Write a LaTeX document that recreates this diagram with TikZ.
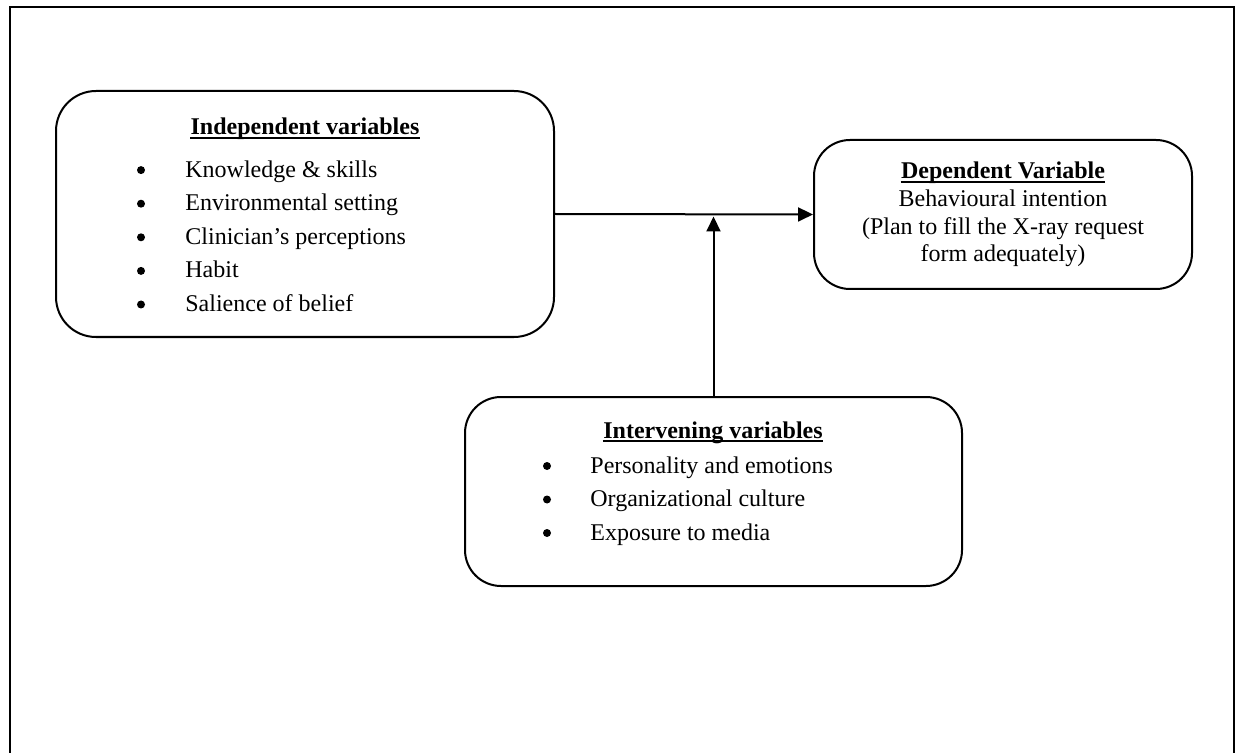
\documentclass[tikz,border=0pt]{standalone}
\usepackage{fontspec}
\setmainfont{Liberation Serif}
\usepackage{tikz}
\usetikzlibrary{arrows.meta}

\tikzset{
	varbox/.style={draw, line width=1pt, rounded corners=18pt, inner sep=0pt},
	txt/.style={anchor=base, inner sep=0pt, font=\fontsize{12}{14}\selectfont},
	title/.style={txt, font=\fontsize{12}{14}\selectfont\bfseries},
	dot/.style={circle, fill, inner sep=0pt, minimum size=4pt},
	arr/.style={line width=1pt, -{Triangle[length=7.5pt, width=7pt]}}
}

\begin{document}
\begin{tikzpicture}[x=0.5pt, y=-0.5pt]
			\useasboundingbox (0, 0) rectangle (1235, 753);
			\draw[line width=1pt] (9.5, 7.5) rectangle (1233.5, 800);
			% boxes
			\node[varbox, rounded corners=20pt, minimum width=249pt, minimum height=123pt] (indep) at (305, 214) {};
			\node[varbox, minimum width=189pt, minimum height=74.5pt] (dep) at (1003, 214.5) {};
			\node[varbox, minimum width=248.5pt, minimum height=94.5pt] (interv) at (713.5, 491.5) {};
			% titles, underlined
			\node[title] (indeptitle) at (305, 135) {Independent variables};
			\node[title] (deptitle) at (1003, 179) {Dependent Variable};
			\node[title] (intervtitle) at (713, 438) {Intervening variables};
			\foreach \n in {indeptitle, deptitle, intervtitle}
				\draw[line width=0.9pt] ([yshift=-1.6pt]\n.base west) -- ([yshift=-1.6pt]\n.base east);
			% bullet lists
			\foreach \t [count=\i] in {Knowledge \& skills, Environmental setting, Clinician’s perceptions, Habit, Salience of belief}
			{
				\node[dot] (indepdot\i) at (141, 136.5 + 33.6*\i) {};
				\node[txt, anchor=base west] (indepitem\i) at (185, 143.5 + 33.6*\i) {\t};
			}
			\foreach \t [count=\i] in {Personality and emotions, Organizational culture, Exposure to media}
			{
				\node[dot] (intervdot\i) at (547, 432.5 + 33.5*\i) {};
				\node[txt, anchor=base west] (intervitem\i) at (590, 439.5 + 33.5*\i) {\t};
			}
			\foreach \t [count=\i] in {{Behavioural intention}, {(Plan to fill the X-ray request}, {form adequately)}}
				\node[txt] (depline\i) at (1003, 178.5 + 27.8*\i) {\t};
			% connectors
			\draw[arr] (indep.east) -- (dep.west);
			\draw[arr] (interv.north) -- ([yshift=-1pt]interv.north |- dep.west);
		\end{tikzpicture}
\end{document}
